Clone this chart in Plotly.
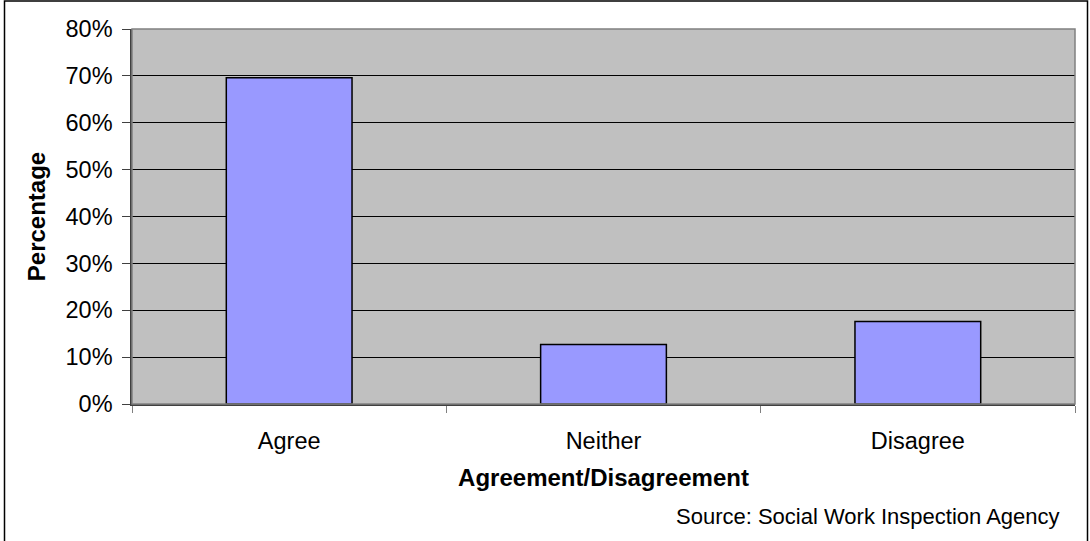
import plotly.graph_objects as go

categories = ["Agree", "Neither", "Disagree"]
values = [69.6, 12.7, 17.6]
y_ticks = [0, 10, 20, 30, 40, 50, 60, 70, 80]
y_tick_labels = [f"{v}%" for v in y_ticks]

W, H = 1090, 541
L, R, T, B = 132, 15, 29, 137
pw, ph = W - L - R, H - T - B

fig = go.Figure(go.Bar(
    x=categories, y=values, width=0.4,
    marker=dict(color="#9999FF", line=dict(color="#000000", width=1.5)),
    hoverinfo="skip",
))

font = "Liberation Sans, Arial, sans-serif"
FS = 23.5
fig.update_layout(
    width=W, height=H,
    margin=dict(l=L, r=R, t=T, b=B),
    paper_bgcolor="white", plot_bgcolor="#C0C0C0",
    showlegend=False,
    font=dict(family=font, size=FS, color="black"),
    xaxis=dict(
        type="category", tickson="boundaries", ticks="outside", ticklen=7,
        tickcolor="#808080", showline=True, linecolor="#404040", linewidth=2,
        showgrid=False, tickfont=dict(size=FS), ticklabelstandoff=15,
        title=dict(text="<b>Agreement/Disagreement</b>", font=dict(size=24), standoff=16),
    ),
    yaxis=dict(
        range=[0, 80], tickvals=y_ticks, ticktext=y_tick_labels,
        ticks="outside", ticklen=8, tickcolor="#404040",
        showline=True, linecolor="#404040", linewidth=1.5,
        showgrid=True, gridcolor="#000000", gridwidth=1,
        tickfont=dict(size=FS), zeroline=False, ticklabelstandoff=5,
        title=dict(text="<b>Percentage</b>", font=dict(size=24), standoff=13),
    ),
    annotations=[dict(
        text="Source: Social Work Inspection Agency", xref="paper", yref="paper",
        x=(1062 - L) / pw, y=-(516 - (T + ph)) / ph, xanchor="right", yanchor="middle",
        showarrow=False, font=dict(size=22, family=font),
    )],
    shapes=[
        dict(type="rect", xref="paper", yref="paper",
             x0=(4.5 - L) / pw, x1=(1087.5 - L) / pw,
             y0=-(546 - (T + ph)) / ph, y1=(T + ph - 1) / ph,
             line=dict(color="#000000", width=1.5), layer="below"),
        dict(type="rect", xref="paper", yref="paper", x0=0, x1=1, y0=0, y1=1,
             line=dict(color="#808080", width=1.5), layer="above"),
    ],
)

fig.write_html(
    "out.html",
    config={"displayModeBar": False},
    post_script="document.body.style.margin='0';document.body.style.overflow='hidden';",
)
